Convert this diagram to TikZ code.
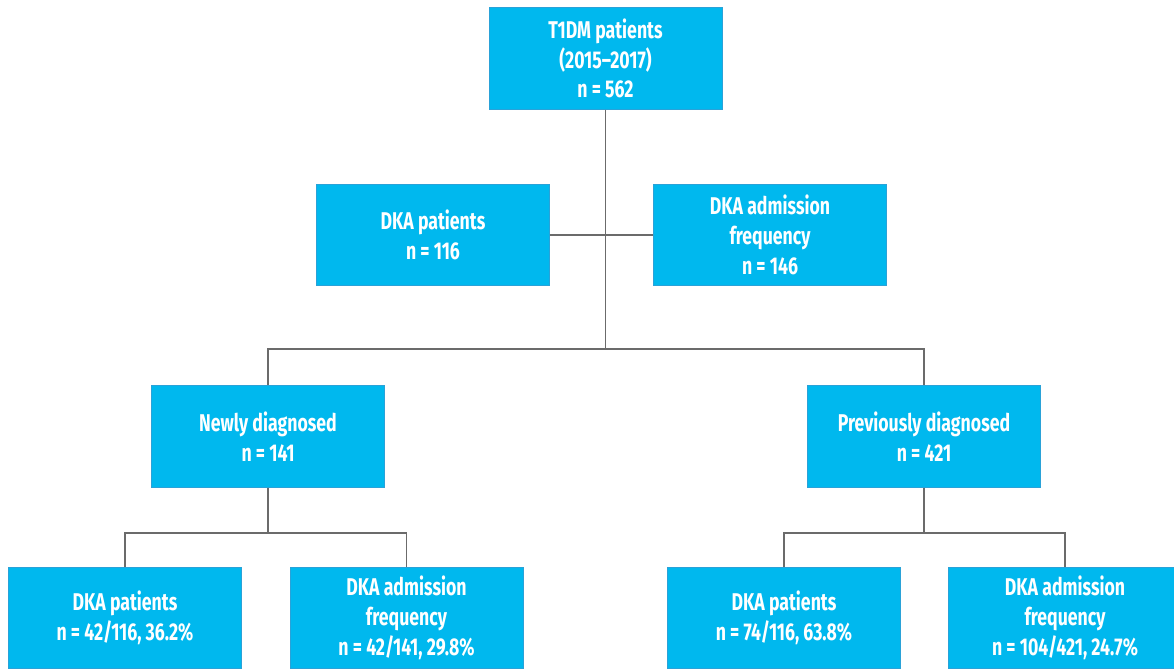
\documentclass[tikz,border=0pt]{standalone}
\usepackage{fontspec}
\setmainfont{Fira Sans}[FakeStretch=0.73]
\definecolor{boxcyan}{HTML}{00B8EE}
\definecolor{boxedge}{HTML}{2AA2D8}
\definecolor{linegrey}{HTML}{6B6B6B}
\begin{document}
\begin{tikzpicture}[x=0.02cm,y=-0.02cm,line cap=butt,line join=miter,
  box/.style={draw=boxedge,line width=0.5pt,fill=boxcyan,text=white,
    minimum width=4.66cm,minimum height=2.03cm,align=center,inner sep=0pt,
    font=\bfseries\fontsize{13.8}{17}\selectfont},
  link/.style={draw=linegrey,line width=0.85pt}]
  \useasboundingbox (0,0) rectangle (1174,671);

  \node[box] (all)  at (605.5,58.5) {T1DM patients\\(2015--2017)\\n = 562};
  \node[box] (dka)  at (433,235)    {DKA patients\\n = 116};
  \node[box] (freq) at (770,235)    {DKA admission\\frequency\\n = 146};
  \node[box] (new)  at (268,436.5)  {Newly diagnosed\\n = 141};
  \node[box] (prev) at (924,436.5)  {Previously diagnosed\\n = 421};

  \node[box] (ndka)  at (125,618)   {DKA patients\\n = 42/116, 36.2\%};
  \node[box] (nfreq) at (406.5,618) {DKA admission\\frequency\\n = 42/141, 29.8\%};
  \node[box] (pdka)  at (784,618)   {DKA patients\\n = 74/116, 63.8\%};
  \node[box] (pfreq) at (1065,618)  {DKA admission\\frequency\\n = 104/421, 24.7\%};

  \coordinate (hub)    at (605.5,349);
  \coordinate (nsplit) at (268,533);
  \coordinate (psplit) at (924,533);

  \draw[link] (all.south) -- (hub);
  \draw[link] (dka.east) -- (freq.west);
  \draw[link] (hub) -| (new.north);
  \draw[link] (hub) -| (prev.north);
  \draw[link] (new.south) -- (nsplit);
  \draw[link] (nsplit) -| (ndka.north);
  \draw[link] (nsplit) -| (nfreq.north);
  \draw[link] (prev.south) -- (psplit);
  \draw[link] (psplit) -| (pdka.north);
  \draw[link] (psplit) -| (pfreq.north);
\end{tikzpicture}
\end{document}
